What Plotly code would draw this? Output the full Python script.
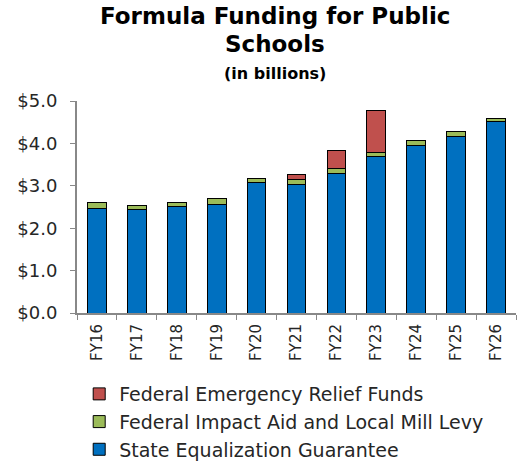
import plotly.graph_objects as go

categories = ["FY16", "FY17", "FY18", "FY19", "FY20", "FY21", "FY22", "FY23", "FY24", "FY25", "FY26"]
state_equalization = [2.47, 2.43, 2.51, 2.57, 3.08, 3.04, 3.29, 3.69, 3.96, 4.17, 4.51]
impact_aid_mill_levy = [0.13, 0.11, 0.09, 0.13, 0.09, 0.10, 0.11, 0.09, 0.12, 0.12, 0.08]
emergency_relief = [0, 0, 0, 0, 0, 0.12, 0.44, 1.00, 0, 0, 0]
tick_vals = [0, 1, 2, 3, 4, 5]
tick_text = ["$0.0", "$1.0", "$2.0", "$3.0", "$4.0", "$5.0"]

FONT = "DejaVu Sans, Arial, sans-serif"
line = dict(color="black", width=1)

fig = go.Figure()
fig.add_bar(x=categories, y=state_equalization, name="State Equalization Guarantee",
            marker=dict(color="#0070C0", line=line))
fig.add_bar(x=categories, y=impact_aid_mill_levy, name="Federal Impact Aid and Local Mill Levy",
            marker=dict(color="#9BBB59", line=line))
fig.add_bar(x=categories, y=[v if v > 0 else None for v in emergency_relief],
            name="Federal Emergency Relief Funds",
            marker=dict(color="#C0504D", line=line))

fig.update_layout(
    width=523, height=463,
    barmode="stack", bargap=0.53,
    plot_bgcolor="white", paper_bgcolor="white",
    margin=dict(l=77, r=7, t=101, b=150),
    font=dict(family=FONT, color="#262626"),
    showlegend=True,
    legend=dict(traceorder="reversed", x=0.005, y=0.19, xref="paper", yref="container",
                xanchor="left", yanchor="top",
                font=dict(size=19, color="#262626"), itemwidth=30, tracegroupgap=0,
                bgcolor="rgba(0,0,0,0)"),
    xaxis=dict(showline=True, linecolor="#888888", linewidth=2, ticks="outside",
               tickson="boundaries", ticklen=5, tickcolor="#888888", tickwidth=1,
               tickangle=-90, tickfont=dict(size=15, color="#262626"), automargin=False,
               ticklabelstandoff=3),
    yaxis=dict(range=[0, 5], tickvals=tick_vals, ticktext=tick_text, showline=True,
               linecolor="#888888", linewidth=2, ticks="outside", ticklen=5,
               tickcolor="#888888", showgrid=False, zeroline=False, automargin=False,
               ticklabelstandoff=9, tickfont=dict(size=18, color="#262626")),
    annotations=[
        dict(text="<b>Formula Funding for Public</b>", x=0.451, y=1.401, xref="paper", yref="paper",
             showarrow=False, xanchor="center", yanchor="middle", font=dict(size=23, color="black")),
        dict(text="<b>Schools</b>", x=0.451, y=1.269, xref="paper", yref="paper",
             showarrow=False, xanchor="center", yanchor="middle", font=dict(size=23, color="black")),
        dict(text="<b>(in billions)</b>", x=0.451, y=1.132, xref="paper", yref="paper",
             showarrow=False, xanchor="center", yanchor="middle", font=dict(size=16, color="black")),
    ],
)

fig.write_html("out.html")
